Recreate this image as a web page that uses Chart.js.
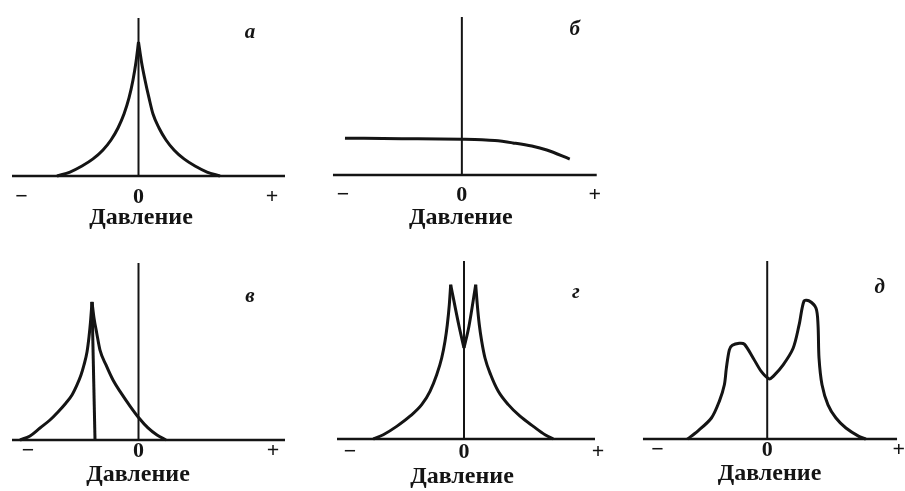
<!DOCTYPE html>
<html>
<head>
<meta charset="utf-8">
<script src="https://cdn.jsdelivr.net/npm/chart.js@4.4.1/dist/chart.umd.min.js"></script>
<style>
  body { margin: 0; background: #fff; width: 905px; height: 491px; position: relative; overflow: hidden; }
  canvas { position: absolute; }
</style>
</head>
<body>
<canvas id="pa"></canvas>
<canvas id="pb"></canvas>
<canvas id="pv"></canvas>
<canvas id="pg"></canvas>
<canvas id="pd"></canvas>
<script>
// texts
const tickLabels = ['−', '0', '+'];
const axisTitle = 'Давление';

// а
const aX = [-0.815, -0.685, -0.565, -0.455, -0.355, -0.275, -0.205, -0.145, -0.095, -0.055, -0.025, 0,
            0.03, 0.065, 0.105, 0.145, 0.205, 0.275, 0.355, 0.455, 0.565, 0.685, 0.815];
const aY = [0, 2.5, 6.3, 10.8, 16.5, 22.8, 30.4, 39.2, 49.4, 60.8, 72.2, 84.8,
            72.2, 60.8, 49.4, 39.2, 30.4, 22.8, 16.5, 10.8, 6.3, 2.5, 0];
const aTicks = [-1.17, 0, 1.335];
const aBase = [-1.265, 1.465];

// б
const bX = [-1.17, -0.6, 0, 0.2, 0.33, 0.51, 0.7, 0.85, 1.08];
const bY = [23.3, 23.0, 22.6, 22.3, 21.8, 20.3, 18.3, 15.8, 10.1];
const bTicks = [-1.19, 0, 1.33];
const bBase = [-1.29, 1.35];

// в (peak shifted to negative pressure, with a drop line from the peak)
const vX = [-1.185, -1.085, -0.985, -0.885, -0.805, -0.725, -0.665, -0.615, -0.575, -0.545, -0.515, -0.495, -0.48, -0.465,
            -0.445, -0.418, -0.385, -0.325, -0.255, -0.175, -0.085, 0.005, 0.095, 0.185, 0.275];
const vY = [0, 2.3, 6.8, 11.3, 15.8, 20.9, 25.4, 31.1, 36.7, 42.4, 49.7, 58.2, 66.7, 78,
            68.9, 60.5, 50.8, 42.4, 33.9, 26.6, 19.2, 12.4, 6.8, 2.8, 0];
const vPeakLineX = [-0.465, -0.435];
const vPeakLineY = [78, 0];
const vTicks = [-1.105, 0, 1.345];
const vBase = [-1.265, 1.465];

// г
const gX = [-0.907, -0.807, -0.673, -0.54, -0.423, -0.34, -0.273, -0.223, -0.19, -0.167, -0.147, -0.133,
            -0.05, 0, 0.05,
            0.117, 0.133, 0.153, 0.177, 0.21, 0.267, 0.343, 0.443, 0.56, 0.693, 0.81, 0.893];
const gY = [0, 2.4, 7.1, 12.8, 19.3, 26.8, 36.1, 45.5, 54.9, 64.2, 75.4, 86.7,
            63.5, 51.1, 63.5,
            86.7, 75.4, 64.2, 54.9, 45.5, 36.1, 26.8, 19.3, 12.8, 7.1, 2.4, 0];
const gTicks = [-1.14, 0, 1.34];
const gBase = [-1.27, 1.31];

// д
const dX = [-0.80, -0.70, -0.56, -0.48, -0.43, -0.41, -0.38, -0.35, -0.28, -0.23, -0.14, -0.06, 0.02, 0.06, 0.16, 0.26, 0.32, 0.37, 0.42, 0.49, 0.51, 0.52, 0.55, 0.61, 0.69, 0.79, 0.92, 0.99];
const dY = [0, 4.3, 11.8, 21.3, 30.5, 39.8, 50.1, 52.6, 53.8, 53.3, 45.4, 38.0, 33.8, 35.2, 41.7, 51.0, 64.1, 77.6, 77.6, 73.5, 64.1, 45.4, 30.5, 19.2, 11.8, 6.2, 1.5, 0];
const dTicks = [-1.10, 0, 1.32];
const dBase = [-1.247, 1.303];

const ink = '#141414';
const serif = '"Liberation Serif", "DejaVu Serif", serif';

function pts(xs, ys) {
  return xs.map((x, i) => ({ x: x, y: ys[i] }));
}

// split a curve at its cusps so each branch is smoothed on its own
function branches(xs, ys, cusps) {
  const p = pts(xs, ys);
  const cuts = [0].concat(cusps, [p.length - 1]);
  const out = [];
  for (let k = 0; k < cuts.length - 1; k++) out.push(p.slice(cuts[k], cuts[k + 1] + 1));
  return out;
}

const letterPlugin = {
  id: 'letter',
  afterDraw(chart, args, opts) {
    const ctx = chart.ctx;
    ctx.save();
    ctx.font = 'italic bold 21px ' + serif;
    ctx.fillStyle = ink;
    ctx.textAlign = 'center';
    ctx.textBaseline = 'middle';
    ctx.fillText(opts.text, chart.scales.x.getPixelForValue(opts.x), chart.scales.y.getPixelForValue(opts.y));
    ctx.restore();
  }
};

function panel(id, g) {
  const cv = document.getElementById(id);
  const padTop = 6;
  const canvasTop = g.top - padTop;
  const axisH = 2 * g.tickPad + 22 + g.titlePad + 24;
  cv.width = g.right - g.left;
  cv.height = g.base - canvasTop + axisH + 4;
  cv.style.left = g.left + 'px';
  cv.style.top = canvasTop + 'px';

  const datasets = [];
  const line = (data, width, extra) => Object.assign({
    data: data, borderColor: ink, borderWidth: width, pointRadius: 0,
    fill: false, clip: false, tension: 0
  }, extra || {});

  datasets.push(line([{ x: g.baseLine[0], y: 0 }, { x: g.baseLine[1], y: 0 }], 2.4));
  datasets.push(line([{ x: 0, y: 0 }, { x: 0, y: 100 }], 2));
  g.curves.forEach(c => datasets.push(line(c.data, 3, c.smooth)));

  return new Chart(cv, {
    type: 'line',
    data: { datasets: datasets },
    plugins: [letterPlugin],
    options: {
      responsive: false,
      animation: false,
      events: [],
      layout: { padding: { top: padTop, bottom: 4, left: 0, right: 0 } },
      plugins: {
        legend: { display: false },
        tooltip: { enabled: false },
        letter: { text: g.letter, x: g.letterAt[0], y: g.letterAt[1] }
      },
      scales: {
        x: {
          type: 'linear',
          min: (g.left - g.zero) / 100,
          max: (g.right - g.zero) / 100,
          grid: { display: false, drawTicks: false },
          border: { display: false },
          afterBuildTicks: s => { s.ticks = g.ticks.map(v => ({ value: v })); },
          ticks: {
            autoSkip: false, maxRotation: 0, padding: g.tickPad, color: ink,
            font: { family: serif, size: 22, weight: 'bold', lineHeight: 1 },
            callback: (v, i) => tickLabels[i]
          },
          title: {
            display: true, text: axisTitle, color: ink,
            font: { family: serif, size: 24, weight: 'bold', lineHeight: 1 },
            padding: { top: g.titlePad, bottom: 0 }
          }
        },
        y: { display: false, min: 0, max: 100 }
      }
    }
  });
}

const mono = { cubicInterpolationMode: 'monotone' };

panel('pa', {
  left: -18, right: 300, zero: 138.5, top: 18, base: 176, tickPad: 10, titlePad: -12,
  ticks: aTicks, baseLine: aBase, letter: 'а', letterAt: [1.115, 91],
  curves: branches(aX, aY, [11]).map(d => ({ data: d, smooth: mono }))
});

panel('pb', {
  left: 312, right: 610, zero: 462, top: 17, base: 175, tickPad: 9, titlePad: -9,
  ticks: bTicks, baseLine: bBase, letter: 'б', letterAt: [1.13, 92],
  curves: [{ data: pts(bX, bY), smooth: mono }]
});

panel('pv', {
  left: -24, right: 300, zero: 138.5, top: 263, base: 440, tickPad: 0, titlePad: 1,
  ticks: vTicks, baseLine: vBase, letter: 'в', letterAt: [1.115, 81],
  curves: branches(vX, vY, [13]).map(d => ({ data: d, smooth: mono }))
    .concat([{ data: pts(vPeakLineX, vPeakLineY), smooth: {} }])
});

panel('pg', {
  left: 316, right: 608, zero: 464, top: 261, base: 439, tickPad: 2, titlePad: 0,
  ticks: gTicks, baseLine: gBase, letter: 'г', letterAt: [1.12, 82],
  curves: branches(gX, gY, [11, 13, 15]).map(d => ({ data: d, smooth: mono }))
});

panel('pd', {
  left: 635, right: 905, zero: 767.7, top: 261, base: 439, tickPad: 0, titlePad: 1,
  ticks: dTicks, baseLine: dBase, letter: 'д', letterAt: [1.13, 85],
  curves: [{ data: pts(dX, dY), smooth: { tension: 0.3 } }]
});
</script>
</body>
</html>
